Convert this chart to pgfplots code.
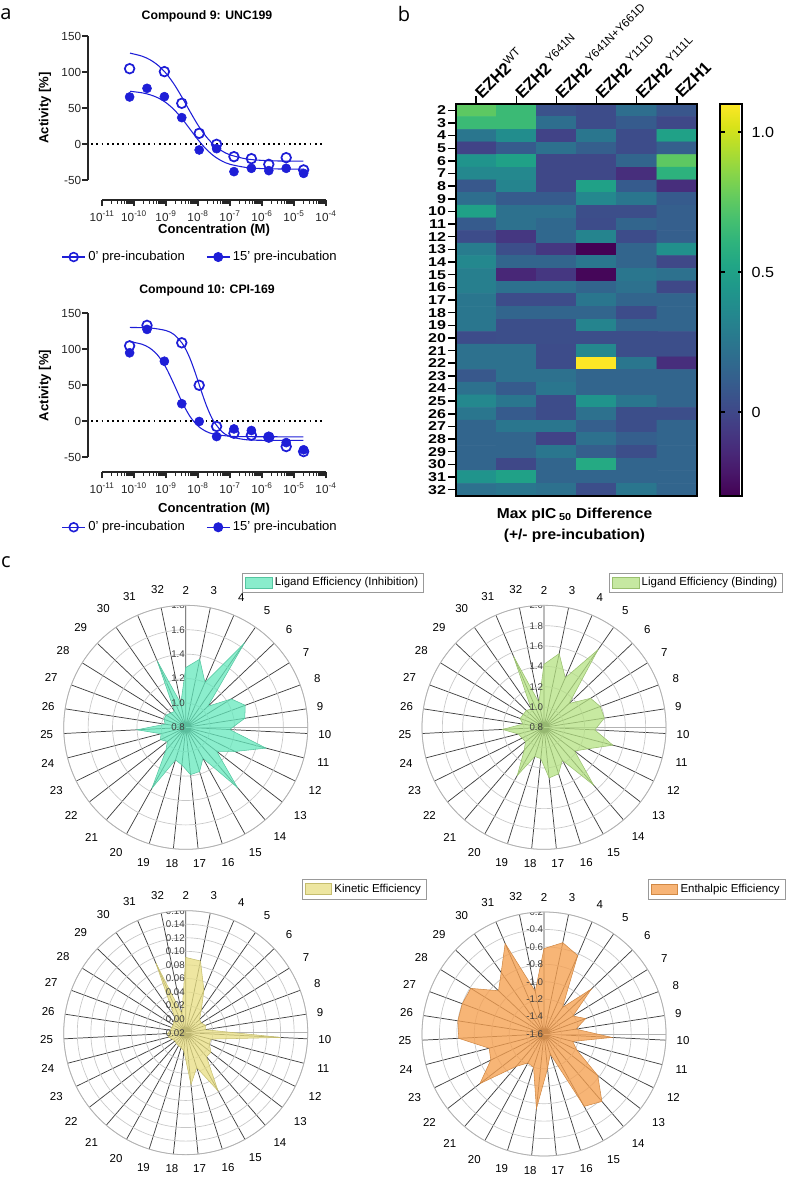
\documentclass[border=0pt]{standalone}
\usepackage{pgfplots}
\pgfplotsset{compat=1.18}
\usepgfplotslibrary{polar}
\usepackage{fontspec}
\setmainfont{Liberation Sans}
\newfontfamily\panelfont{Open Sans}
\definecolor{pblue}{RGB}{30,30,215}
\definecolor{leI}{RGB}{100,232,188}
\definecolor{leB}{RGB}{180,225,130}
\definecolor{keC}{RGB}{232,222,130}
\definecolor{enC}{RGB}{245,160,80}
\pgfplotsset{
  myDR/.style={
    scale only axis, width=168pt, height=108pt,
    ymin=-50, ymax=150,
    axis x line=bottom, axis y line=left,
    axis y line shift=10.5pt,
    axis line style={-, line width=1.3pt, black!85},
    tick align=outside, major tick length=4.5pt, minor tick length=2.8pt,
    tick style={line width=1pt, black!85},
    xtick={1e-11,1e-10,1e-9,1e-8,1e-7,1e-6,1e-5,1e-4},
    xticklabels={10\textsuperscript{-11},10\textsuperscript{-10},10\textsuperscript{-9},10\textsuperscript{-8},10\textsuperscript{-7},10\textsuperscript{-6},10\textsuperscript{-5},10\textsuperscript{-4}},
    minor xtick={2e-11,3e-11,4e-11,5e-11,6e-11,7e-11,8e-11,9e-11,2e-10,3e-10,4e-10,5e-10,6e-10,7e-10,8e-10,9e-10,2e-9,3e-9,4e-9,5e-9,6e-9,7e-9,8e-9,9e-9,2e-8,3e-8,4e-8,5e-8,6e-8,7e-8,8e-8,9e-8,2e-7,3e-7,4e-7,5e-7,6e-7,7e-7,8e-7,9e-7,2e-6,3e-6,4e-6,5e-6,6e-6,7e-6,8e-6,9e-6,2e-5,3e-5,4e-5,5e-5,6e-5,7e-5,8e-5,9e-5},
    ytick={-50,0,50,100,150}, yticklabels={-50,0,50,100,150},
    tick label style={font=\fontsize{8.8}{10}\selectfont, text=black!85},
    yticklabel style={inner xsep=0.5pt},
    clip=false,
    legend columns=2,
  },
  myRadar/.style={
    scale only axis, width=183pt, height=183pt, anchor=center,
    xmin=0, xmax=360, ymin=0,
    xtick={8.710,20.323,31.935,43.548,55.161,66.774,78.387,90,101.613,113.226,124.839,136.452,148.065,159.677,171.290,182.903,194.516,206.129,217.742,229.355,240.968,252.581,264.194,275.806,287.419,299.032,310.645,322.258,333.871,345.484,357.097},
    xticklabels={9,8,7,6,5,4,3,2,32,31,30,29,28,27,26,25,24,23,22,21,20,19,18,17,16,15,14,13,12,11,10},
    yticklabels={},
    xmajorgrids, ymajorgrids,
    major x grid style={black!75, line width=0.55pt},
    major y grid style={black!22, line width=0.5pt},
    axis line style={black!30, line width=0.6pt},
    major tick length=0pt,
    xticklabel style={font=\fontsize{8.6}{9}\selectfont, inner sep=8pt},
  },
}
\tikzset{
  rlab/.style={anchor=east, font=\fontsize{7.3}{8}\selectfont, text=black!75, inner sep=0.5pt},
  drleg/.style={draw=none, fill=none, font=\fontsize{9.8}{11}\selectfont, anchor=center},
  radleg/.style={draw=black!40, fill=white, font=\fontsize{8.6}{10}\selectfont, anchor=north west, inner xsep=2pt, inner ysep=1.5pt},
}
\begin{document}
\begin{tikzpicture}
\useasboundingbox (0pt,0pt) rectangle (591pt,885pt);
% ---------- panel letters and titles
\node[font=\panelfont\fontsize{15}{15}\selectfont] at (4.5pt,874.5pt) {a};
\node[font=\panelfont\fontsize{15}{15}\selectfont] at (303pt,874.5pt) {b};
\node[font=\panelfont\fontsize{15}{15}\selectfont] at (4.5pt,463.5pt) {c};
\node[font=\bfseries\fontsize{9.2}{10}\selectfont] at (155.25pt,873pt) {Compound 9: UNC199};
\node[font=\bfseries\fontsize{9.2}{10}\selectfont] at (155.25pt,667.5pt) {Compound 10: CPI-169};
\node[font=\bfseries\fontsize{9.8}{11}\selectfont] at (160.5pt,712.5pt) {Concentration (M)};
\node[font=\bfseries\fontsize{9.8}{11}\selectfont] at (160.5pt,503.25pt) {Concentration (M)};
\node[font=\bfseries\fontsize{9.8}{11}\selectfont, rotate=90] at (33.75pt,804pt) {Activity [\%]};
\node[font=\bfseries\fontsize{9.8}{11}\selectfont, rotate=90] at (33.75pt,595.9pt) {Activity [\%]};
% ---------- panel a top
\begin{axis}[xmode=log, xmin=1e-11, xmax=1e-4, myDR, at={(76.5pt,750pt)}, anchor=south west, axis x line shift=15pt,
  legend style={drleg, at={(0.44,-0.535)}}, legend cell align=left,
  legend style={/tikz/every even column/.append style={column sep=14pt}}]
\addlegendimage{pblue, line width=0.9pt, mark=o, mark size=3.3pt, mark options={line width=1.2pt}}
\addlegendentry{0' pre-incubation}
\addlegendimage{pblue, line width=0.9pt, mark=*, mark size=3.3pt}
\addlegendentry{15' pre-incubation}
\addplot[black, line width=1.2pt, dash pattern=on 1.3pt off 2.6pt, forget plot] coordinates {(4.6e-12,0) (7.5e-5,0)};
\addplot[pblue, line width=0.8pt, smooth, no marks, forget plot] coordinates {(7.5e-11,126.2) (1.778e-10,122.0) (3.162e-10,117.0) (5.623e-10,109.3) (1e-9,98.2) (1.778e-9,83.2) (3.162e-9,64.9) (5.623e-9,45.1) (1e-8,26.2) (1.778e-8,10.5) (3.162e-8,-1.4) (5.623e-8,-9.7) (1e-7,-15.1) (3.162e-7,-20.7) (1e-6,-22.8) (3.162e-6,-23.6) (1.95e-5,-23.9)};
\addplot[pblue, line width=0.8pt, smooth, no marks, forget plot] coordinates {(7.5e-11,73.2) (1.778e-10,71.1) (3.162e-10,68.4) (5.623e-10,64.1) (1e-9,57.4) (1.778e-9,47.8) (3.162e-9,35.2) (5.623e-9,20.6) (1e-8,5.9) (1.778e-8,-6.9) (3.162e-8,-16.8) (5.623e-8,-23.7) (1e-7,-28.2) (3.162e-7,-32.6) (1e-6,-34.2) (3.162e-6,-34.7) (1.95e-5,-35)};
\addplot[only marks, pblue, mark=o, mark size=3.6pt, mark options={line width=1.3pt}, forget plot] coordinates {(7.3e-11,104.6) (8.9e-10,100.5) (3.11e-9,56.5) (1.09e-8,14.8) (3.81e-8,-0.5) (1.33e-7,-17.6) (4.66e-7,-20.4) (1.63e-6,-28.3) (5.71e-6,-19) (2e-5,-36)};
\addplot[only marks, pblue, mark=*, mark size=3.4pt, forget plot] coordinates {(7.3e-11,65.3) (2.55e-10,77.3) (8.9e-10,65.7) (3.11e-9,36.6) (1.09e-8,-8.3) (3.81e-8,-6.5) (1.33e-7,-38.4) (4.66e-7,-33.8) (1.63e-6,-37) (5.71e-6,-33.8) (2e-5,-40.8)};
\end{axis}
% ---------- panel a bottom
\begin{axis}[xmode=log, xmin=1e-11, xmax=1e-4, myDR, at={(76.5pt,542.25pt)}, anchor=south west, axis x line shift=11.5pt,
  legend style={drleg, at={(0.44,-0.488)}}, legend cell align=left,
  legend style={/tikz/every even column/.append style={column sep=14pt}}]
\addlegendimage{pblue, line width=0.9pt, mark=o, mark size=3.3pt, mark options={line width=1.2pt}}
\addlegendentry{0' pre-incubation}
\addlegendimage{pblue, line width=0.9pt, mark=*, mark size=3.3pt}
\addlegendentry{15' pre-incubation}
\addplot[black, line width=1.2pt, dash pattern=on 1.3pt off 2.6pt, forget plot] coordinates {(4.6e-12,0) (7.5e-5,0)};
\addplot[pblue, line width=0.8pt, smooth, no marks, forget plot] coordinates {(7.5e-11,129.9) (3.162e-10,129.2) (1e-9,125.6) (1.778e-9,120.1) (3.162e-9,108.3) (4.217e-9,98.9) (5.623e-9,86.8) (7.5e-9,72) (1e-8,55.5) (1.334e-8,38.7) (1.778e-8,23) (2.371e-8,9.6) (3.162e-8,-1.1) (5.623e-8,-14.9) (1e-7,-21.7) (3.162e-7,-26) (1e-6,-26.8) (1.95e-5,-27)};
\addplot[pblue, line width=0.8pt, smooth, no marks, forget plot] coordinates {(7.5e-11,110.2) (1.778e-10,106.6) (3.162e-10,101.1) (5.623e-10,90.9) (1e-9,74.1) (1.778e-9,51) (3.162e-9,26.4) (5.623e-9,6.3) (1e-8,-6.9) (1.778e-8,-14.4) (3.162e-8,-18.3) (1e-7,-21.2) (3.162e-7,-21.8) (1.95e-5,-22)};
\addplot[only marks, pblue, mark=o, mark size=3.6pt, mark options={line width=1.3pt}, forget plot] coordinates {(7.3e-11,104.4) (2.55e-10,132.8) (3.11e-9,108.6) (1.09e-8,49.6) (3.81e-8,-7.6) (1.33e-7,-17) (4.66e-7,-19.7) (1.63e-6,-22.5) (5.71e-6,-35.5) (2e-5,-42.5)};
\addplot[only marks, pblue, mark=*, mark size=3.4pt, forget plot] coordinates {(7.3e-11,94.7) (2.55e-10,127.2) (8.9e-10,83) (3.11e-9,24) (1.09e-8,-0.7) (3.81e-8,-21.6) (1.33e-7,-11) (4.66e-7,-13.2) (1.63e-6,-21.6) (5.71e-6,-30) (2e-5,-40)};
\end{axis}
% ---------- panel b heatmap
\begin{axis}[
  at={(342pt,807pt)}, anchor=north west,
  scale only axis, width=180.75pt, height=294pt,
  xmin=-0.5, xmax=5.5, ymin=-32.5, ymax=-1.5, enlargelimits=false,
  colormap/viridis, point meta min=-0.3, point meta max=1.1,
  axis on top, axis line style={line width=1.4pt},
  tick align=outside, major tick length=6pt,
  tick style={line width=1.1pt, black},
  xtick={0,1,2,3,4,5}, xtick pos=right, xticklabel pos=right,
  xticklabels={EZH2\textsuperscript{\mdseries WT}, EZH2\,\textsuperscript{\mdseries Y641N}, EZH2\,\textsuperscript{\mdseries Y641N+Y661D}, EZH2\,\textsuperscript{\mdseries Y111D}, EZH2\,\textsuperscript{\mdseries Y111L}, EZH1},
  xticklabel style={rotate=45, anchor=west, font=\bfseries\fontsize{12.5}{13}\selectfont, inner sep=1pt},
  ytick={-32,-31,-30,-29,-28,-27,-26,-25,-24,-23,-22,-21,-20,-19,-18,-17,-16,-15,-14,-13,-12,-11,-10,-9,-8,-7,-6,-5,-4,-3,-2},
  yticklabels={32,31,30,29,28,27,26,25,24,23,22,21,20,19,18,17,16,15,14,13,12,11,10,9,8,7,6,5,4,3,2},
  ytick pos=left,
  yticklabel style={font=\bfseries\fontsize{9.6}{10}\selectfont, inner sep=1pt, xscale=1.25},
  colorbar,
  colorbar style={
    at={(parent axis.north east)}, anchor=north west, xshift=9pt,
    width=16.5pt, axis line style={line width=1.4pt},
    ytick={0,0.5,1}, yticklabels={0,0.5,1.0},
    ytick pos=both, yticklabel pos=right, tick align=inside,
    major tick length=3.5pt, tick style={line width=1pt, black},
    yticklabel style={font=\fontsize{11}{12}\selectfont, xshift=3pt, xscale=1.1},
  },
]
\addplot[matrix plot*, mesh/cols=6, point meta=explicit] table[x=c, y expr=-\thisrow{r}, meta=v] {
c r v
0 2 0.75
1 2 0.65
2 2 0.05
3 2 0.02
4 2 0.20
5 2 0.07
0 3 0.65
1 3 0.65
2 3 0.20
3 3 0.02
4 3 0.10
5 3 0.00
0 4 0.25
1 4 0.38
2 4 -0.02
3 4 0.25
4 4 0.02
5 4 0.50
0 5 -0.02
1 5 0.10
2 5 0.22
3 5 0.12
4 5 0.02
5 5 0.12
0 6 0.42
1 6 0.50
2 6 0.00
3 6 0.00
4 6 0.15
5 6 0.75
0 7 0.35
1 7 0.35
2 7 0.00
3 7 0.00
4 7 -0.12
5 7 0.60
0 8 0.08
1 8 0.33
2 8 0.00
3 8 0.50
4 8 0.10
5 8 -0.12
0 9 0.20
1 9 0.10
2 9 0.10
3 9 0.35
4 9 0.25
5 9 0.10
0 10 0.50
1 10 0.22
2 10 0.22
3 10 0.03
4 10 0.03
5 10 0.12
0 11 0.10
1 11 0.22
2 11 0.17
3 11 0.02
4 11 0.15
5 11 0.12
0 12 0.02
1 12 -0.08
2 12 0.17
3 12 0.33
4 12 0.02
5 12 0.12
0 13 0.28
1 13 0.03
2 13 -0.08
3 13 -0.30
4 13 0.15
5 13 0.40
0 14 0.35
1 14 0.15
2 14 0.15
3 14 0.25
4 14 0.15
5 14 0.00
0 15 0.30
1 15 -0.15
2 15 -0.08
3 15 -0.28
4 15 0.25
5 15 0.22
0 16 0.30
1 16 0.22
2 16 0.22
3 16 0.15
4 16 0.22
5 16 0.00
0 17 0.25
1 17 0.02
2 17 0.02
3 17 0.25
4 17 0.15
5 17 0.15
0 18 0.25
1 18 0.15
2 18 0.15
3 18 0.15
4 18 0.02
5 18 0.15
0 19 0.25
1 19 0.03
2 19 0.03
3 19 0.33
4 19 0.15
5 19 0.15
0 20 0.02
1 20 0.03
2 20 0.03
3 20 0.03
4 20 0.03
5 20 0.03
0 21 0.22
1 21 0.22
2 21 0.02
3 21 0.35
4 21 0.03
5 21 0.03
0 22 0.22
1 22 0.22
2 22 0.02
3 22 1.10
4 22 0.25
5 22 -0.12
0 23 0.08
1 23 0.22
2 23 0.22
3 23 0.15
4 23 0.15
5 23 0.15
0 24 0.22
1 24 0.10
2 24 0.25
3 24 0.15
4 24 0.15
5 24 0.15
0 25 0.35
1 25 0.25
2 25 0.02
3 25 0.42
4 25 0.25
5 25 0.15
0 26 0.25
1 26 0.10
2 26 0.02
3 26 0.22
4 26 0.03
5 26 0.03
0 27 0.15
1 27 0.25
2 27 0.25
3 27 0.12
4 27 0.03
5 27 0.15
0 28 0.15
1 28 0.15
2 28 -0.02
3 28 0.22
4 28 0.12
5 28 0.15
0 29 0.15
1 29 0.15
2 29 0.25
3 29 0.12
4 29 0.03
5 29 0.15
0 30 0.15
1 30 0.00
2 30 0.15
3 30 0.55
4 30 0.15
5 30 0.15
0 31 0.42
1 31 0.50
2 31 0.15
3 31 0.15
4 31 0.15
5 31 0.15
0 32 0.22
1 32 0.25
2 32 0.22
3 32 0.03
4 32 0.25
5 32 0.15
};
\end{axis}
\node[font=\bfseries\fontsize{10.8}{12}\selectfont, xscale=1.08] at (430.9pt,498.75pt) {Max pIC\,\textsubscript{50} Difference};
\node[font=\bfseries\fontsize{10.8}{12}\selectfont, xscale=1.08] at (430.9pt,483pt) {(+/- pre-incubation)};
% ---------- panel c radar 1
\begin{polaraxis}[myRadar, at={(139.3pt,339.5pt)}, ymax=1.0, ytick={0.2,0.4,0.6,0.8,1.0},
  legend style={radleg, at={(0.731,1.134)}},
  legend image code/.code={\fill[#1] (0pt,-4pt) rectangle (20pt,4pt);}]
\addplot[draw=leI!85!black, line width=0.4pt, fill=leI, fill opacity=0.75] table[x expr={mod(450-(\thisrow{k}-2)*360/31,360)}, y expr={\thisrow{v}-0.8}] {
k v
2 1.29
3 1.37
4 1.20
5 1.64
6 1.05
7 1.24
8 1.32
9 1.29
10 1.16
11 1.48
12 1.25
13 1.12
14 1.45
15 1.09
16 1.18
17 1.19
18 1.11
19 1.08
20 1.37
21 1.05
22 0.99
23 1.03
24 1.01
25 1.20
26 0.97
27 0.99
28 0.99
29 0.97
30 0.96
31 1.39
32 1.00
} -- cycle;
\addlegendentry{Ligand Efficiency (Inhibition)}
\node[rlab] at (axis cs:90,0) {0.8};
\node[rlab] at (axis cs:90,0.2) {1.0};
\node[rlab] at (axis cs:90,0.4) {1.2};
\node[rlab] at (axis cs:90,0.6) {1.4};
\node[rlab] at (axis cs:90,0.8) {1.6};
\node[rlab] at (axis cs:90,1.0) {1.8};
\end{polaraxis}
% ---------- radar 2
\begin{polaraxis}[myRadar, at={(408pt,339.5pt)}, ymax=1.2, ytick={0.2,0.4,0.6,0.8,1.0,1.2},
  legend style={radleg, at={(0.766,1.134)}},
  legend image code/.code={\fill[#1] (0pt,-4pt) rectangle (20pt,4pt);}]
\addplot[draw=leB!85!black, line width=0.4pt, fill=leB, fill opacity=0.75] table[x expr={mod(450-(\thisrow{k}-2)*360/31,360)}, y expr={\thisrow{v}-0.8}] {
k v
2 1.42
3 1.54
4 1.33
5 1.73
6 1.14
7 1.34
8 1.39
9 1.40
10 1.30
11 1.50
12 1.28
13 1.18
14 1.55
15 1.17
16 1.28
17 1.30
18 1.11
19 1.10
20 1.34
21 1.10
22 1.03
23 1.04
24 1.06
25 1.21
26 1.01
27 1.05
28 1.04
29 1.04
30 1.02
31 1.56
32 1.05
} -- cycle;
\addlegendentry{Ligand Efficiency (Binding)}
\node[rlab] at (axis cs:90,0) {0.8};
\node[rlab] at (axis cs:90,0.2) {1.0};
\node[rlab] at (axis cs:90,0.4) {1.2};
\node[rlab] at (axis cs:90,0.6) {1.4};
\node[rlab] at (axis cs:90,0.8) {1.6};
\node[rlab] at (axis cs:90,1.0) {1.8};
\node[rlab] at (axis cs:90,1.2) {2.0};
\end{polaraxis}
% ---------- radar 3
\begin{polaraxis}[myRadar, at={(139.3pt,110.5pt)}, ymax=0.18, ytick={0.02,0.04,0.06,0.08,0.10,0.12,0.14,0.16,0.18},
  legend style={radleg, at={(0.975,1.13)}},
  legend image code/.code={\fill[#1] (0pt,-4pt) rectangle (20pt,4pt);}]
\addplot[draw=keC!85!black, line width=0.4pt, fill=keC, fill opacity=0.75] table[x expr={mod(450-(\thisrow{k}-2)*360/31,360)}, y expr={\thisrow{v}+0.02}] {
k v
2 0.091
3 0.088
4 0.048
5 0.020
6 0.008
7 0.007
8 0.011
9 0.009
10 0.120
11 0.018
12 0.019
13 0.027
14 0.027
15 0.078
16 0.034
17 0.057
18 0.007
19 0.003
20 0.002
21 0.001
22 0.000
23 0.002
24 0.006
25 0.007
26 0.003
27 0.002
28 0.002
29 0.004
30 0.009
31 0.092
32 0.008
} -- cycle;
\addlegendentry{Kinetic Efficiency}
\node[rlab] at (axis cs:90,0) {-0.02};
\node[rlab] at (axis cs:90,0.02) {0.00};
\node[rlab] at (axis cs:90,0.04) {0.02};
\node[rlab] at (axis cs:90,0.06) {0.04};
\node[rlab] at (axis cs:90,0.08) {0.06};
\node[rlab] at (axis cs:90,0.10) {0.08};
\node[rlab] at (axis cs:90,0.12) {0.10};
\node[rlab] at (axis cs:90,0.14) {0.12};
\node[rlab] at (axis cs:90,0.16) {0.14};
\node[rlab] at (axis cs:90,0.18) {0.16};
\end{polaraxis}
% ---------- radar 4
\begin{polaraxis}[myRadar, at={(408pt,109.5pt)}, ymax=1.4, ytick={0.2,0.4,0.6,0.8,1.0,1.2,1.4},
  legend style={radleg, at={(0.925,1.135)}},
  legend image code/.code={\fill[#1] (0pt,-4pt) rectangle (20pt,4pt);}]
\addplot[draw=enC!85!black, line width=0.4pt, fill=enC, fill opacity=0.78] table[x expr={mod(450-(\thisrow{k}-2)*360/31,360)}, y expr={\thisrow{v}+1.6}] {
k v
2 -0.62
3 -0.53
4 -0.62
5 -1.23
6 -0.85
7 -1.21
8 -1.09
9 -1.23
10 -0.82
11 -1.26
12 -1.18
13 -0.82
14 -0.58
15 -0.65
16 -1.36
17 -1.20
18 -0.74
19 -1.20
20 -1.22
21 -1.11
22 -0.67
23 -0.92
24 -0.95
25 -0.62
26 -0.60
27 -0.60
28 -0.61
29 -0.88
30 -0.74
31 -0.47
32 -1.10
} -- cycle;
\addlegendentry{Enthalpic Efficiency}
\node[rlab] at (axis cs:90,0) {-1.6};
\node[rlab] at (axis cs:90,0.2) {-1.4};
\node[rlab] at (axis cs:90,0.4) {-1.2};
\node[rlab] at (axis cs:90,0.6) {-1.0};
\node[rlab] at (axis cs:90,0.8) {-0.8};
\node[rlab] at (axis cs:90,1.0) {-0.6};
\node[rlab] at (axis cs:90,1.2) {-0.4};
\node[rlab] at (axis cs:90,1.4) {-0.2};
\end{polaraxis}
\end{tikzpicture}
\end{document}
